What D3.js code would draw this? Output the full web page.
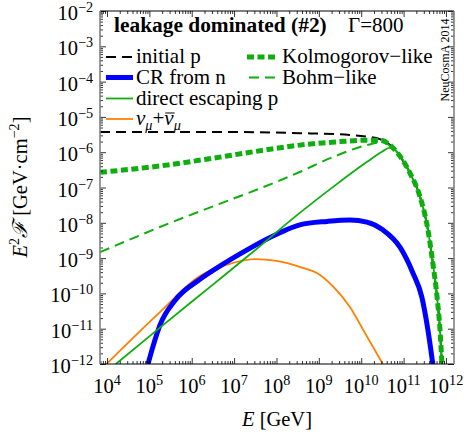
<!DOCTYPE html>
<html><head><meta charset="utf-8">
<script src="https://cdn.jsdelivr.net/npm/d3@7"></script>
<style>
body{margin:0;background:#fff}
</style>
</head><body>
<svg id="chart" width="464" height="438"></svg>
<script>
// ---------- data (log10 values) ----------
const xTickExps = [4, 5, 6, 7, 8, 9, 10, 11, 12];
const yTickExps = [-2, -3, -4, -5, -6, -7, -8, -9, -10, -11, -12];

// common high-energy cutoff shared by the proton curves
const cutoffLogE = [11.15, 11.39, 11.575, 11.69, 11.79, 11.86, 11.905];
const cutoffLogF = [-6.59, -7.27, -8.20, -9.14, -10.10, -11.04, -12.0];

const initialPLogE = [3.835, 7.0, 8.55, 9.73, 10.13, 10.44, 10.6, 10.8];
const initialPLogF = [-5.43, -5.43, -5.46, -5.51, -5.56, -5.63, -5.72, -5.94];

const kolmogorovLogE = [3.835, 5.25, 6.5, 7.5, 8.55, 9.5, 10.13, 10.44, 10.62, 10.8];
const kolmogorovLogF = [-6.57, -6.39, -6.17, -5.98, -5.80, -5.70, -5.66, -5.66, -5.74, -5.94];

const bohmLogE = [3.835, 5.25, 8.55, 9.33, 10.13, 10.5, 10.68, 10.8];
const bohmLogF = [-8.83, -8.12, -6.56, -6.14, -5.80, -5.72, -5.82, -5.94];

const directLogE = [4.21, 5.25, 6.5, 7.5, 8.55, 9.33, 10.13, 10.5, 10.68, 10.8];
const directLogF = [-12, -10.97, -9.75, -8.77, -7.72, -6.99, -6.28, -5.98, -5.87, -5.94];

const crNLogE = [4.968, 5.086, 5.25, 5.605, 6.195, 6.7, 7.14, 8.08, 8.55, 9.2, 9.735, 10.135, 10.51, 10.915, 11.22, 11.43, 11.575, 11.69];
const crNLogF = [-12, -11.5, -10.9, -10.2, -9.6, -9.2, -8.88, -8.28, -8.06, -7.96, -7.92, -7.98, -8.20, -8.69, -9.42, -10.10, -11.04, -12];

const nuLogE = [3.99, 5.25, 6.2, 6.8, 7.5, 8.0, 8.55, 9.02, 9.34, 9.73, 10.05, 10.51];
const nuLogF = [-12, -10.53, -9.5, -9.2, -9.03, -9.08, -9.25, -9.47, -9.81, -10.38, -11.04, -12];

const legendLabels = ["initial p", "CR from n", "direct escaping p", "nu", "Kolmogorov\u2212like", "Bohm\u2212like"];

// ---------- layout ----------
const L = 100, R = 454, T = 11, B = 364;
const FONT = "'Liberation Serif', 'Times New Roman', Times, serif";
const FS = "20.5px", FSS = "14.2px", FL = "21px";
const svg = d3.select("#chart");

const x = d3.scaleLog().domain([Math.pow(10, 3.835), Math.pow(10, 12.19)]).range([L, R]);
const y = d3.scaleLog().domain([1e-12, 1e-2]).range([B, T]);

function pts(le, lf) { return le.map((e, i) => [Math.pow(10, e), Math.pow(10, lf[i])]); }
function txt(sel) { return sel.append("text").attr("font-family", FONT).attr("fill", "#000"); }

const GREEN = "#0fae0f", BLUE = "#0000ff", ORANGE = "#ff8000";

const series = [
  {data: pts(initialPLogE.concat(cutoffLogE), initialPLogF.concat(cutoffLogF)), color: "#000", w: 2, dash: "10,6"},
  {data: pts(nuLogE, nuLogF), color: ORANGE, w: 1.8, dash: null},
  {data: pts(crNLogE, crNLogF), color: BLUE, w: 5, dash: null},
  {data: pts(directLogE.concat(cutoffLogE), directLogF.concat(cutoffLogF)), color: GREEN, w: 1.8, dash: null},
  {data: pts(bohmLogE.concat(cutoffLogE), bohmLogF.concat(cutoffLogF)), color: GREEN, w: 2, dash: "10,6"},
  {data: pts(kolmogorovLogE.concat(cutoffLogE), kolmogorovLogF.concat(cutoffLogF)), color: GREEN, w: 5, dash: "7,3.5"}
];

svg.append("clipPath").attr("id", "clip").append("rect")
  .attr("x", L).attr("y", T).attr("width", R - L).attr("height", B - T);

const line = d3.line().x(d => x(d[0])).y(d => y(d[1])).curve(d3.curveMonotoneX);
const gLines = svg.append("g").attr("clip-path", "url(#clip)");
series.forEach(s => {
  gLines.append("path").attr("d", line(s.data)).attr("fill", "none")
    .attr("stroke", s.color).attr("stroke-width", s.w)
    .attr("stroke-dasharray", s.dash).attr("stroke-linejoin", "round");
});

// ---------- ticks ----------
const xMajor = xTickExps.map(e => Math.pow(10, e));
const yMajor = yTickExps.map(e => Math.pow(10, e));
const xMinor = [], yMinor = [];
for (let d = 3; d <= 12; d++) for (let k = 2; k <= 9; k++) {
  const v = k * Math.pow(10, d);
  if (v > x.domain()[0] && v < x.domain()[1]) xMinor.push(v);
}
for (let d = -12; d < -2; d++) for (let k = 2; k <= 9; k++) yMinor.push(k * Math.pow(10, d));

function axisG(axis, tx, ty) {
  const g = svg.append("g").attr("transform", `translate(${tx},${ty})`).call(axis);
  g.select(".domain").remove();
  g.selectAll(".tick line").attr("stroke", "#000").attr("stroke-width", 0.8);
  g.selectAll(".tick text").remove();
}
axisG(d3.axisBottom(x).tickValues(xMajor).tickSize(-6), 0, B);
axisG(d3.axisBottom(x).tickValues(xMinor).tickSize(-3), 0, B);
axisG(d3.axisTop(x).tickValues(xMajor).tickSize(-6), 0, T);
axisG(d3.axisTop(x).tickValues(xMinor).tickSize(-3), 0, T);
axisG(d3.axisLeft(y).tickValues(yMajor).tickSize(-6), L, 0);
axisG(d3.axisLeft(y).tickValues(yMinor).tickSize(-3), L, 0);
axisG(d3.axisRight(y).tickValues(yMajor).tickSize(-6), R, 0);
axisG(d3.axisRight(y).tickValues(yMinor).tickSize(-3), R, 0);

// frame
svg.append("line").attr("x1", L).attr("x2", R).attr("y1", T).attr("y2", T).attr("stroke", "#000").attr("stroke-width", 1);
svg.append("line").attr("x1", L).attr("x2", R).attr("y1", B).attr("y2", B).attr("stroke", "#000").attr("stroke-width", 1.2);
svg.append("line").attr("x1", L).attr("x2", L).attr("y1", T).attr("y2", B).attr("stroke", "#808080").attr("stroke-width", 1.6);
svg.append("line").attr("x1", R).attr("x2", R).attr("y1", T).attr("y2", B).attr("stroke", "#808080").attr("stroke-width", 1.6);

// tick labels
xTickExps.forEach(e => {
  const t = txt(svg).attr("x", x(Math.pow(10, e))).attr("y", 393)
    .attr("text-anchor", "middle").attr("font-size", FS);
  t.append("tspan").text("10");
  t.append("tspan").attr("dy", -8).attr("font-size", FSS).text(e);
});
yTickExps.forEach(e => {
  const t = txt(svg).attr("x", 93).attr("y", y(Math.pow(10, e)) + 9)
    .attr("text-anchor", "end").attr("font-size", FS);
  t.append("tspan").text("10");
  t.append("tspan").attr("dy", -8).attr("font-size", FSS).text("\u2212" + Math.abs(e));
});

// axis titles
const xl = txt(svg).attr("x", (L + R) / 2).attr("y", 426).attr("text-anchor", "middle").attr("font-size", FS);
xl.append("tspan").attr("font-style", "italic").text("E");
xl.append("tspan").text(" [GeV]");

const yl = txt(svg).attr("transform", "translate(27,187) rotate(-90)").attr("text-anchor", "middle").attr("font-size", FS);
yl.append("tspan").attr("font-style", "italic").text("E");
yl.append("tspan").attr("dy", -8).attr("font-size", FSS).text("2");
yl.append("tspan").attr("dy", 8).attr("font-style", "italic").text("\u2131");
yl.append("tspan").text(" [GeV\u00B7cm");
yl.append("tspan").attr("dy", -8).attr("font-size", FSS).text("\u22122");
yl.append("tspan").attr("dy", 8).text("]");

// title & annotations
txt(svg).attr("x", 114).attr("y", 32).attr("font-size", "21.4px").attr("font-weight", "bold").text("leakage dominated (#2)");
txt(svg).attr("x", 348).attr("y", 32).attr("font-size", FL).text("\u0393=800");
txt(svg).attr("transform", "translate(449,60) rotate(-90)").attr("text-anchor", "middle").attr("font-size", "12px").text("NeuCosmA 2014");

// legend
const legendStyles = [series[0], series[2], series[3], series[1], series[5], series[4]];
const legendPos = [[106, 133, 136, 57], [106, 133, 136, 77.5], [106, 133, 136, 98.5], [106, 133, 136, 119], [247, 276, 282, 57], [249, 275, 282, 77.5]];
legendLabels.forEach((lab, i) => {
  const p = legendPos[i], s = legendStyles[i];
  svg.append("line").attr("x1", p[0]).attr("x2", p[1]).attr("y1", p[3]).attr("y2", p[3])
    .attr("stroke", s.color).attr("stroke-width", s.w).attr("stroke-dasharray", s.dash);
  const t = txt(svg).attr("x", p[2]).attr("y", p[3] + 6).attr("font-size", FL);
  if (lab === "nu") {
    t.append("tspan").attr("font-style", "italic").text("\u03BD");
    t.append("tspan").attr("dy", 5).attr("font-size", FSS).attr("font-style", "italic").text("\u03BC");
    t.append("tspan").attr("dy", -5).text("+");
    t.append("tspan").attr("font-style", "italic").text("\u03BD");
    t.append("tspan").attr("dy", 5).attr("font-size", FSS).attr("font-style", "italic").text("\u03BC");
    const n = t.node();
    const x0 = n.getStartPositionOfChar(3).x, x1 = n.getEndPositionOfChar(3).x;
    svg.append("line").attr("x1", x0 + 1).attr("x2", x1 + 1).attr("y1", p[3] - 6).attr("y2", p[3] - 6)
      .attr("stroke", "#000").attr("stroke-width", 1);
  } else t.text(lab);
});
</script>
</body></html>
